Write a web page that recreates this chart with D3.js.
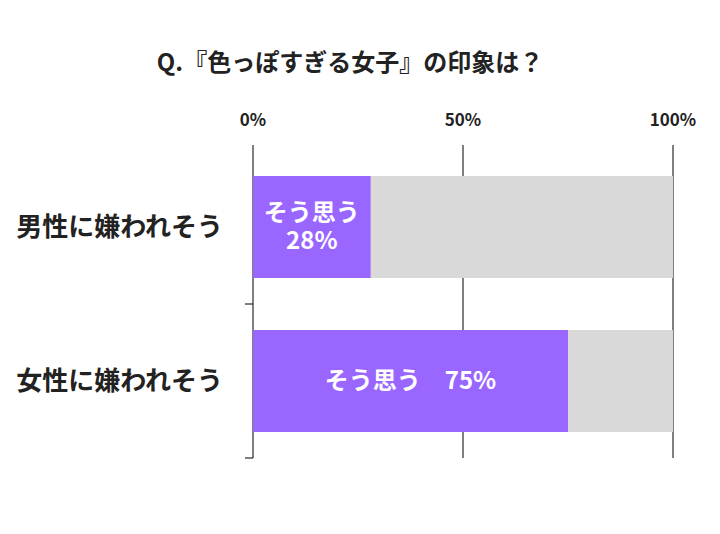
<!DOCTYPE html>
<html><head><meta charset="utf-8">
<script src="https://cdn.jsdelivr.net/npm/d3@7"></script>
<style>body{margin:0;background:#fff;font-family:"Noto Sans CJK JP","Noto Sans",sans-serif;}</style>
</head><body><svg id="chart" width="720" height="534"></svg>
<script>
const categories = ["男性に嫌われそう", "女性に嫌われそう"];
const agreeValues = [28, 75];
const agreeLabels = [["そう思う", "28%"], ["そう思う\u3000" + "75%"]];
const tickValues = [0, 50, 100];

const svg = d3.select("#chart");
const x = d3.scaleLinear().domain([0, 100]).range([253, 673]);
const y = d3.scaleBand().domain(categories).range([150, 458]).paddingInner(0.338).paddingOuter(0.169);

svg.append("text").attr("x", 350).attr("y", 71).attr("text-anchor", "middle")
    .attr("font-size", 24).attr("font-weight", "bold").attr("fill", "#222")
    .text("Q.『色っぽすぎる女子』の印象は？");

// gridlines
svg.selectAll(".grid").data(tickValues).enter().append("line")
    .attr("x1", d => x(d)).attr("x2", d => x(d)).attr("y1", 145).attr("y2", 458)
    .attr("stroke", "#000").attr("stroke-width", 1);
svg.selectAll(".tl").data(tickValues).enter().append("text")
    .attr("x", d => x(d)).attr("y", 126).attr("text-anchor", "middle")
    .attr("font-size", 17).attr("font-weight", "bold").attr("fill", "#222")
    .text(d => d + "%");

// bars
categories.forEach((c, i) => {
    svg.append("rect").attr("x", x(0)).attr("y", y(c)).attr("width", x(100) - x(0))
        .attr("height", y.bandwidth()).attr("fill", "#d9d9d9");
    svg.append("rect").attr("x", x(0)).attr("y", y(c)).attr("width", x(agreeValues[i]) - x(0))
        .attr("height", y.bandwidth()).attr("fill", "#9966ff");
    const lines = agreeLabels[i];
    const cx = x(agreeValues[i] / 2), cy = y(c) + y.bandwidth() / 2;
    const t = svg.append("text").attr("text-anchor", "middle").attr("fill", "#fff")
        .attr("font-weight", "bold").attr("font-size", 24);
    lines.forEach((l, j) => {
        t.append("tspan").attr("x", cx)
            .attr("y", cy + 8 + (j - (lines.length - 1) / 2) * 28).text(l);
    });
    svg.append("text").attr("x", 223).attr("y", cy + 9).attr("text-anchor", "end")
        .attr("font-size", 26).attr("font-weight", "bold").attr("fill", "#222").text(c);
});

// category axis
const sep = [(y(categories[0]) + y.bandwidth() + y(categories[1])) / 2, 458];
svg.selectAll(".ct").data(sep).enter().append("line")
    .attr("x1", 245).attr("x2", 253).attr("y1", d => d).attr("y2", d => d)
    .attr("stroke", "#000");
</script></body></html>
